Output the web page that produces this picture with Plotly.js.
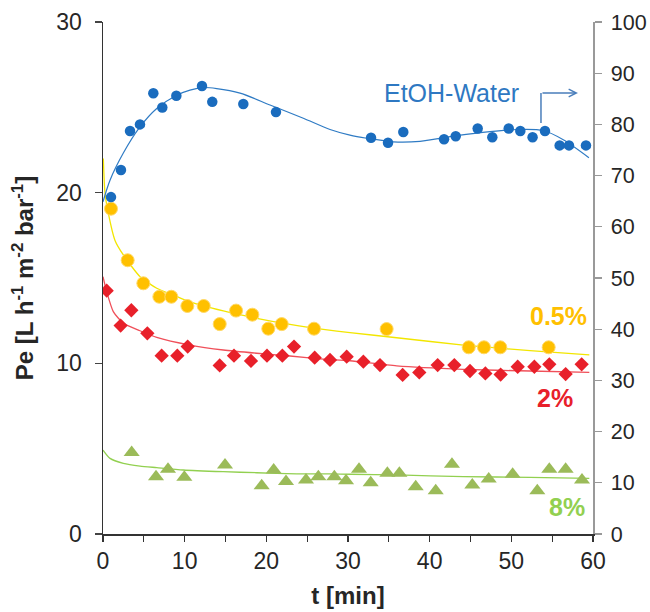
<!DOCTYPE html>
<html>
<head>
<meta charset="utf-8">
<script src="https://cdn.plot.ly/plotly-3.0.1.min.js"></script>
<style>html,body{margin:0;padding:0;background:#fff;}#chart{width:650px;height:612px;}</style>
</head>
<body>
<div id="chart"></div>
<script>
// EtOH-Water (right axis, 0-100)
const tBlue = [0.98,2.2,3.31,4.53,6.16,7.26,8.98,12.12,13.38,17.18,21.18,32.82,34.9,36.77,41.76,43.19,45.88,47.67,49.68,51.1,52.6,54.12,55.92,57.06,59.14];
const peBlue = [65.8,71.1,78.7,80.0,86.1,83.3,85.6,87.5,84.4,84.0,82.4,77.4,76.4,78.5,77.1,77.7,79.2,77.5,79.2,78.7,77.5,78.7,75.9,75.9,75.9];
const tBlueFit = [0,0.86,2.49,4.53,6.58,9.02,10.65,12.28,13.92,16.78,20.45,24.53,27.8,30.24,32.29,35.55,38.82,43.31,47.39,50.66,53.92,56.36,59.5];
const blueFit = [64.9,69.1,74.4,79.5,83.1,85.7,86.7,87.2,87.0,86.1,83.8,81.2,79.0,77.9,77.3,76.6,76.7,77.8,78.6,79.0,78.8,77.0,73.5];

// 0.5 %
const tYellow = [0.98,3.02,4.94,6.9,8.37,10.33,12.33,14.29,16.29,18.29,20.24,21.88,25.84,34.73,44.78,46.65,48.65,54.57];
const peYellow = [19.06,16.04,14.69,13.9,13.9,13.36,13.36,12.3,13.09,12.85,12.03,12.3,12.03,12.01,10.94,10.94,10.94,10.94];
const tYellowFit = [0.04,0.24,0.65,1.47,2.49,4.53,6.58,8.61,10.65,14.73,18.82,22.9,26.98,30.24,35.96,44.12,52.29,59.55];
const yellowFit = [22.0,20.0,18.8,17.2,16.35,15.08,14.4,14.0,13.6,13.07,12.64,12.28,11.99,11.8,11.5,11.07,10.74,10.49];

// 2 %
const tRed = [0.45,2.16,3.47,5.43,7.18,9.1,10.37,14.29,16.04,18.12,20.08,21.96,23.39,25.92,27.8,29.84,31.88,33.92,36.69,38.73,40.98,43.02,44.94,46.82,48.69,50.78,52.82,54.65,56.65,58.61];
const peRed = [14.26,12.21,13.11,11.76,10.45,10.45,10.98,9.88,10.45,10.14,10.45,10.45,10.98,10.33,10.2,10.39,10.1,9.9,9.32,9.47,9.9,9.9,9.55,9.41,9.34,9.8,9.8,9.94,9.37,9.94];
const tRedFit = [0,0.45,1.26,2.49,4.53,6.58,10.65,14.73,18.82,22.9,26.98,30.24,35.96,44.12,52.29,59.55];
const redFit = [15.08,14.2,13.03,12.35,11.91,11.52,11.07,10.78,10.59,10.43,10.25,10.15,9.85,9.65,9.55,9.47];

// 8 %
const tGreen = [3.51,6.49,7.96,9.96,14.94,19.43,20.9,22.41,24.86,26.37,28.33,29.76,31.35,32.78,34.82,36.29,38.29,40.74,42.73,45.22,47.23,50.16,53.18,54.65,56.65,58.65];
const peGreen = [4.77,3.36,3.79,3.32,4.04,2.83,3.75,3.07,3.16,3.36,3.36,3.12,3.79,3.01,3.56,3.56,2.77,2.54,4.08,2.87,3.22,3.5,2.54,3.79,3.79,3.16];
const tGreenFit = [0,0.86,2.49,4.53,6.58,9.83,14.73,18.82,23.72,27.8,30.24,35.96,44.12,52.29,59.55];
const greenFit = [4.92,4.43,4.14,3.98,3.89,3.75,3.65,3.59,3.52,3.52,3.5,3.46,3.36,3.32,3.26];

const xTicks = [0,10,20,30,40,50,60];
const yTicks = [0,10,20,30];
const y2Ticks = [0,10,20,30,40,50,60,70,80,90,100];

const FONT = 'Liberation Sans, Arial, sans-serif';
const BLUE = '#1A6CBE', GOLD = '#FFC000', RED = '#E8202A', GREEN = '#9BBB59';

const traces = [
  {x: tYellowFit, y: yellowFit, mode: 'lines', line: {color: '#F2E600', width: 1.3, shape: 'spline', smoothing: 0.6}, hoverinfo: 'skip', showlegend: false},
  {x: tRedFit, y: redFit, mode: 'lines', line: {color: '#F0505A', width: 1.3, shape: 'spline', smoothing: 0.6}, hoverinfo: 'skip', showlegend: false},
  {x: tGreenFit, y: greenFit, mode: 'lines', line: {color: '#92D050', width: 1.3, shape: 'spline', smoothing: 0.6}, hoverinfo: 'skip', showlegend: false},
  {x: tYellow, y: peYellow, mode: 'markers', name: '0.5%', marker: {symbol: 'circle', size: 13, color: GOLD, line: {color: '#FFD966', width: 1}}},
  {x: tRed, y: peRed, mode: 'markers', name: '2%', marker: {symbol: 'diamond', size: 11, color: RED, line: {width: 0}}},
  {x: tGreen, y: peGreen, mode: 'markers', name: '8%', marker: {symbol: 'triangle-up', size: 14, color: GREEN, line: {width: 0}}},
  {x: tBlueFit, y: blueFit, yaxis: 'y2', mode: 'lines', line: {color: '#2F7BC4', width: 1.2, shape: 'spline', smoothing: 0.8}, hoverinfo: 'skip', showlegend: false},
  {x: tBlue, y: peBlue, yaxis: 'y2', mode: 'markers', name: 'EtOH-Water', marker: {symbol: 'circle', size: 10.5, color: BLUE, line: {width: 0}}}
];

const tickFont = {family: FONT, size: 23, color: '#262626'};

const layout = {
  width: 650, height: 612,
  margin: {l: 103, r: 57, t: 22, b: 78, pad: 0},
  paper_bgcolor: '#fff', plot_bgcolor: '#fff',
  showlegend: false,
  font: {family: FONT, color: '#262626'},
  xaxis: {
    range: [0, 60], tickvals: xTicks, ticktext: xTicks.map(String),
    showline: true, linecolor: '#333', linewidth: 1.5,
    ticks: 'outside', ticklen: 6, tickwidth: 1.5, tickcolor: '#333',
    minor: {dtick: 5, tick0: 0, ticks: 'outside', ticklen: 6, tickwidth: 1, tickcolor: '#333', showgrid: false},
    showgrid: false, zeroline: false, tickfont: tickFont,
    title: {text: '<b>t [min]</b>', font: {family: FONT, size: 24, color: '#262626'}, standoff: 14}
  },
  xaxis2: {
    overlaying: 'x', anchor: 'y', side: 'bottom', range: [0, 60], tickvals: xTicks,
    showticklabels: false, showline: false, ticks: 'inside', ticklen: 6, tickwidth: 1.5, tickcolor: '#333',
    showgrid: false, zeroline: false
  },
  yaxis: {
    range: [0, 30], tickvals: yTicks, ticktext: yTicks.map(String),
    showline: true, linecolor: '#333', linewidth: 1.5,
    ticks: 'outside', ticklen: 7, tickwidth: 1.5, tickcolor: '#444',
    showgrid: false, zeroline: false, tickfont: tickFont, ticklabelstandoff: 8,
    title: {text: '<b>Pe [L h<sup>-1</sup> m<sup>-2</sup> bar<sup>-1</sup>]</b>', font: {family: FONT, size: 24, color: '#262626'}, standoff: 16}
  },
  yaxis3: {
    overlaying: 'y', anchor: 'x', side: 'left', range: [0, 30], tickvals: yTicks,
    showticklabels: false, showline: false, ticks: 'inside', ticklen: 7, tickwidth: 1.5, tickcolor: '#444',
    showgrid: false, zeroline: false
  },
  yaxis2: {
    overlaying: 'y', side: 'right', anchor: 'x', range: [0, 100], tickvals: y2Ticks, ticktext: y2Ticks.map(String),
    showline: true, linecolor: '#999', linewidth: 1.5,
    ticks: 'outside', ticklen: 7, tickwidth: 1.2, tickcolor: '#999',
    showgrid: false, zeroline: false, tickfont: {family: FONT, size: 21.5, color: '#262626'}, ticklabelstandoff: 5
  },
  shapes: [
    {type: 'line', xref: 'x', yref: 'y', x0: 53.63, x1: 53.63, y0: 24.08, y1: 25.84, line: {color: '#4A7EBB', width: 1.5}}
  ],
  annotations: [
    {xref: 'x', yref: 'y', x: 42.7, y: 25.84, text: 'EtOH-Water', showarrow: false, font: {family: FONT, size: 25, color: '#2E78C2'}, xanchor: 'center', yanchor: 'middle'},
    {xref: 'x', yref: 'y', x: 58.16, y: 25.84, axref: 'x', ayref: 'y', ax: 53.63, ay: 25.84, text: '', showarrow: true, arrowhead: 5, arrowsize: 1, arrowwidth: 1.5, arrowcolor: '#4A7EBB'},
    {xref: 'x', yref: 'y', x: 59.5, y: 12.77, text: '<b>0.5%</b>', showarrow: false, font: {family: FONT, size: 25, color: GOLD}, xanchor: 'right', yanchor: 'middle'},
    {xref: 'x', yref: 'y', x: 55.35, y: 7.97, text: '<b>2%</b>', showarrow: false, font: {family: FONT, size: 25, color: RED}, xanchor: 'center', yanchor: 'middle'},
    {xref: 'x', yref: 'y', x: 56.82, y: 1.58, text: '<b>8%</b>', showarrow: false, font: {family: FONT, size: 25, color: '#92D050'}, xanchor: 'center', yanchor: 'middle'}
  ]
};

Plotly.newPlot('chart', traces, layout, {displayModeBar: false, staticPlot: true});
</script>
</body>
</html>
